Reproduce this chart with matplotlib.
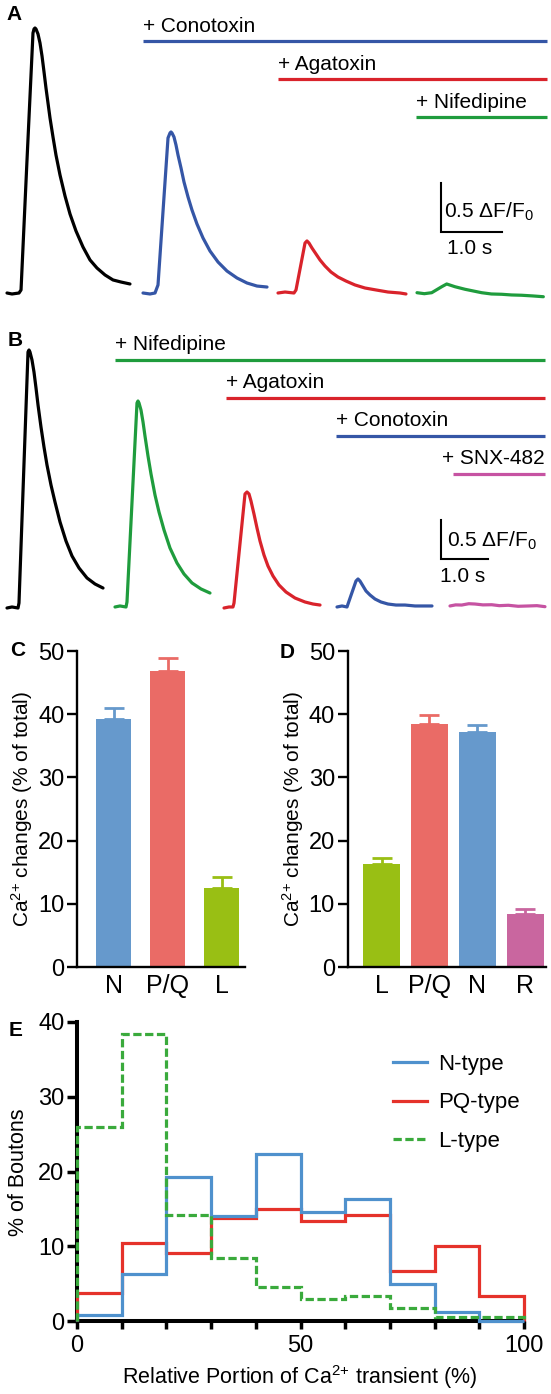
import matplotlib
matplotlib.use("Agg")
import matplotlib.pyplot as plt
from matplotlib.lines import Line2D
import numpy as np

plt.rcParams['font.family'] = ['Liberation Sans', 'DejaVu Sans']
plt.rcParams['mathtext.fontset'] = 'custom'
plt.rcParams['mathtext.rm'] = 'Liberation Sans'
plt.rcParams['mathtext.it'] = 'Liberation Sans:italic'
plt.rcParams['mathtext.bf'] = 'Liberation Sans:bold'

# ------------------------------------------------------------------ data
# Panel A: Ca2+ transients (time in s from trace start, dF/F0)
a_ctrl_t = [0, 0.082, 0.197, 0.23, 0.328, 0.426, 0.443, 0.459, 0.475, 0.508, 0.541, 0.574, 0.607, 0.639,
            0.672, 0.705, 0.754, 0.803, 0.869, 0.951, 1.033, 1.131, 1.246, 1.361, 1.475, 1.607, 1.738, 1.869, 2.016]
a_ctrl_v = [0, -0.01, 0, 0.031, 1.357, 2.653, 2.694, 2.704, 2.694, 2.643, 2.551, 2.418, 2.255, 2.092,
            1.939, 1.786, 1.592, 1.408, 1.204, 0.99, 0.806, 0.633, 0.469, 0.337, 0.255, 0.184, 0.133, 0.112, 0.092]
a_cono_t = [0, 0.115, 0.197, 0.246, 0.41, 0.443, 0.459, 0.475, 0.508, 0.541, 0.574, 0.623, 0.672, 0.738,
            0.803, 0.885, 0.984, 1.098, 1.23, 1.377, 1.541, 1.705, 1.869, 2.033]
a_cono_v = [0, -0.01, 0, 0.082, 1.582, 1.633, 1.643, 1.633, 1.592, 1.51, 1.408, 1.276, 1.133, 0.98,
            0.847, 0.704, 0.561, 0.429, 0.316, 0.224, 0.153, 0.102, 0.071, 0.061]
a_aga_t = [0, 0.115, 0.262, 0.295, 0.443, 0.475, 0.508, 0.557, 0.623, 0.689, 0.77, 0.869, 0.984, 1.115,
           1.262, 1.426, 1.607, 1.803, 2.0, 2.098]
a_aga_v = [0, 0.01, 0, 0.031, 0.51, 0.531, 0.51, 0.459, 0.398, 0.337, 0.276, 0.214, 0.163, 0.122,
           0.082, 0.051, 0.031, 0.01, 0, -0.01]
a_nif_t = [0.0, 0.12, 0.241, 0.405, 0.487, 0.623, 0.787, 1.06, 1.22, 1.388, 1.55, 1.716, 1.9, 2.071]
a_nif_v = [0.003, -0.007, 0.003, 0.064, 0.092, 0.064, 0.038, 0.003, -0.01, -0.013, -0.02, -0.023, -0.03, -0.038]

# Panel B
b_ctrl_t = [0, 0.106, 0.234, 0.255, 0.447, 0.468, 0.489, 0.532, 0.574, 0.617, 0.66, 0.723, 0.787, 0.851,
            0.936, 1.021, 1.128, 1.255, 1.383, 1.532, 1.702, 1.872, 2.043]
b_ctrl_v = [0, 0.013, 0, 0.064, 3.282, 3.308, 3.282, 3.179, 3.026, 2.821, 2.603, 2.321, 2.064, 1.833,
            1.577, 1.359, 1.103, 0.859, 0.667, 0.513, 0.385, 0.308, 0.256]
b_nif_t = [0, 0.106, 0.234, 0.255, 0.468, 0.489, 0.511, 0.553, 0.596, 0.638, 0.702, 0.766, 0.851, 0.936,
           1.043, 1.17, 1.319, 1.468, 1.638, 1.83, 2.021]
b_nif_v = [0.013, 0.026, 0.013, 0.077, 2.628, 2.654, 2.628, 2.538, 2.385, 2.205, 1.949, 1.718, 1.449, 1.231,
           1.0, 0.769, 0.577, 0.436, 0.321, 0.244, 0.192]
b_aga_t = [0, 0.106, 0.191, 0.213, 0.447, 0.489, 0.532, 0.574, 0.638, 0.702, 0.766, 0.851, 0.936, 1.043,
           1.17, 1.319, 1.511, 1.723, 1.894, 2.043]
b_aga_v = [0, 0.013, 0.013, 0.064, 1.462, 1.487, 1.462, 1.372, 1.205, 1.026, 0.859, 0.679, 0.538, 0.41,
           0.295, 0.205, 0.128, 0.077, 0.051, 0.038]
b_cono_t = [0, 0.106, 0.213, 0.234, 0.404, 0.447, 0.489, 0.553, 0.617, 0.702, 0.809, 0.936, 1.085, 1.255,
            1.447, 1.66, 1.851, 2.021]
b_cono_v = [0.013, 0.026, 0.013, 0.051, 0.346, 0.372, 0.346, 0.282, 0.218, 0.167, 0.115, 0.077, 0.051, 0.038,
            0.038, 0.026, 0.026, 0.026]
b_snx_t = [0.0, 0.12, 0.249, 0.4, 0.532, 0.7, 0.887, 1.05, 1.24, 1.45, 1.666, 1.85, 2.021]
b_snx_v = [0.026, 0.04, 0.038, 0.055, 0.051, 0.04, 0.042, 0.03, 0.035, 0.022, 0.026, 0.03, 0.017]

a_drugs = ["+ Conotoxin", "+ Agatoxin", "+ Nifedipine"]
b_drugs = ["+ Nifedipine", "+ Agatoxin", "+ Conotoxin", "+ SNX-482"]

# Panel C
c_labels = ["N", "P/Q", "L"]
c_means = [39.2, 46.8, 12.5]
c_errs = [1.8, 2.1, 1.7]
# Panel D
d_labels = ["L", "P/Q", "N", "R"]
d_means = [16.3, 38.4, 37.2, 8.4]
d_errs = [0.9, 1.4, 1.1, 0.7]

# Panel E: histograms (% of boutons), bins of 10 %
e_edges = [0, 10, 20, 30, 40, 50, 60, 70, 80, 90, 100]
e_n = [0.8, 6.25, 19.2, 14.1, 22.4, 14.55, 16.3, 4.95, 1.25, 0.0]
e_pq = [3.7, 10.5, 9.15, 13.75, 14.95, 13.4, 14.2, 6.75, 10.05, 3.35]
e_l = [25.9, 38.4, 14.2, 8.4, 4.6, 3.0, 3.4, 1.8, 0.6, 0.5]

# ------------------------------------------------------------------ style
BLK = "black"
T_BLUE = "#3556a6"
T_RED = "#d9232b"
T_GREEN = "#1f9c3d"
T_MAG = "#c653a2"
BAR_N = "#6699cc"
BAR_PQ = "#ea6b66"
BAR_L = "#99bf14"
BAR_R = "#c9669f"
E_BLUE = "#4f91cd"
E_RED = "#e5322a"
E_GREEN = "#3aaa3c"

W, H = 551, 1394
fig = plt.figure(figsize=(W / 100, H / 100), dpi=100)


def px_axes(x0, y0, x1, y1):
    return fig.add_axes([x0 / W, 1 - y1 / H, (x1 - x0) / W, (y1 - y0) / H])


def ftext(x, y, s, **kw):
    fig.text(x / W, 1 - y / H, s, **kw)


def trace_panel(ax, px_s, px_u, x0, base, top_px, bot_px, traces, offsets,
                drugs, drug_colors, drug_levels, drug_starts, drug_end,
                sbar, sb_txt_dx, sb_txt_dy, s_txt_dx, s_txt_dy, snx_right=False):
    ax.set_xlim(-x0 / px_s, (W - x0) / px_s)
    ax.set_ylim((base - bot_px) / px_u, (base - top_px) / px_u)
    ax.axis('off')
    for (t, v, c), off in zip(traces, offsets):
        ax.plot(np.asarray(t) + off, v, color=c, lw=2.3,
                solid_joinstyle='round', solid_capstyle='round')
    for i, (lab, c, lv, st) in enumerate(zip(drugs, drug_colors, drug_levels, drug_starts)):
        ax.plot([st, drug_end], [lv, lv], color=c, lw=2.3, solid_capstyle='butt')
        if snx_right and i == len(drugs) - 1:
            ax.annotate(lab, (drug_end, lv), xytext=(0, 15), textcoords='offset pixels',
                        ha='right', va='center', fontsize=15)
        else:
            ax.annotate(lab, (st, lv), xytext=(0, 15), textcoords='offset pixels',
                        ha='left', va='center', fontsize=15)
    sx, sy = sbar
    ax.plot([sx, sx, sx + 1.0], [sy + 0.5, sy, sy], color='black', lw=1.5,
            solid_joinstyle='miter')
    ax.annotate("0.5 \u0394F/F$_{\\mathregular{0}}$", (sx, sy + 0.25),
                xytext=(sb_txt_dx, sb_txt_dy), textcoords='offset pixels',
                ha='left', va='center', fontsize=15)
    ax.annotate("1.0 s", (sx, sy), xytext=(s_txt_dx, s_txt_dy),
                textcoords='offset pixels', ha='left', va='center', fontsize=15)


# ---- Panel A
axA = px_axes(0, 0, W, 305)
A_S, A_U = 61.0, 98.0
trace_panel(axA, A_S, A_U, 7, 293, 0, 305,
            [(a_ctrl_t, a_ctrl_v, BLK), (a_cono_t, a_cono_v, T_BLUE),
             (a_aga_t, a_aga_v, T_RED), (a_nif_t, a_nif_v, T_GREEN)],
            [0, 136 / A_S, 271 / A_S, 410 / A_S],
            a_drugs, [T_BLUE, T_RED, T_GREEN],
            [(293 - 41) / A_U, (293 - 79) / A_U, (293 - 117) / A_U],
            [136 / A_S, 271 / A_S, 409 / A_S], 540 / A_S,
            ((441 - 7) / A_S, (293 - 232) / A_U), 3, -4, 6, -17)

# ---- Panel B
axB = px_axes(0, 312, W, 615)
B_S, B_U = 47.0, 78.0
trace_panel(axB, B_S, B_U, 7, 608, 312, 615,
            [(b_ctrl_t, b_ctrl_v, BLK), (b_nif_t, b_nif_v, T_GREEN),
             (b_aga_t, b_aga_v, T_RED), (b_cono_t, b_cono_v, T_BLUE),
             (b_snx_t, b_snx_v, T_MAG)],
            [0, 108 / B_S, 217 / B_S, 330 / B_S, 443 / B_S],
            b_drugs, [T_GREEN, T_RED, T_BLUE, T_MAG],
            [(608 - 360) / B_U, (608 - 398) / B_U, (608 - 436) / B_U, (608 - 474) / B_U],
            [108 / B_S, 219 / B_S, 329 / B_S, 446 / B_S], 538 / B_S,
            ((441 - 7) / B_S, (608 - 559) / B_U), 6, -1, -1, -18, snx_right=True)


# ---- Panels C and D
def bar_panel(ax, labels, means, errs, colors, width, xl):
    x = np.arange(len(means))
    ax.bar(x, means, width=width, color=colors, zorder=2)
    for xi, m, e, c in zip(x, means, errs, colors):
        ax.errorbar(xi, m, yerr=[[0], [e]], fmt='none', ecolor=c, elinewidth=2.0,
                    capsize=7, capthick=2.0, zorder=2)
    ax.set_xlim(*xl)
    ax.set_ylim(0, 50)
    ax.set_yticks([0, 10, 20, 30, 40, 50])
    ax.set_xticks(x)
    ax.set_xticklabels(labels)
    for s in ['top', 'right']:
        ax.spines[s].set_visible(False)
    for s in ['left', 'bottom']:
        ax.spines[s].set_linewidth(1.7)
    ax.tick_params(axis='y', length=7, width=1.7, labelsize=17, pad=2)
    ax.tick_params(axis='x', length=0, labelsize=18, pad=5)


axC = px_axes(77, 651, 245, 967)
bar_panel(axC, c_labels, c_means, c_errs, [BAR_N, BAR_PQ, BAR_L], 0.65, (-0.676, 2.435))
axD = px_axes(347.5, 651, 546, 967)
bar_panel(axD, d_labels, d_means, d_errs, [BAR_L, BAR_PQ, BAR_N, BAR_R], 0.77, (-0.71, 3.43))

ylab = "Ca$^{\\mathregular{2{+}}}$ changes (% of total)"
ftext(22, 809, ylab, rotation=90, ha='center', va='center', fontsize=15)
ftext(293, 809, ylab, rotation=90, ha='center', va='center', fontsize=15)

# ---- Panel E
axE = px_axes(77, 1022, 524, 1321)
axE.stairs(e_pq, e_edges, baseline=0, color=E_RED, lw=2.3, clip_on=False, zorder=3)
axE.stairs(e_n, e_edges, baseline=0, color=E_BLUE, lw=2.3, clip_on=False, zorder=3.1)
axE.stairs(e_l, e_edges, baseline=0, color=E_GREEN, lw=2.3, clip_on=False, zorder=3.2,
           linestyle=(0, (2.6, 1.1)))
axE.set_xlim(0, 100)
axE.set_ylim(0, 40)
axE.set_xticks([0, 50, 100])
axE.set_xticks(e_edges, minor=True)
axE.set_yticks([0, 10, 20, 30, 40])
for s in ['top', 'right']:
    axE.spines[s].set_visible(False)
for s in ['left', 'bottom']:
    axE.spines[s].set_linewidth(2.9)
axE.tick_params(axis='x', which='both', length=6, width=2.5, labelsize=17, pad=4)
axE.tick_params(axis='y', length=7, width=2.5, labelsize=17, pad=2)
handles = [Line2D([], [], color=E_BLUE, lw=2.3),
           Line2D([], [], color=E_RED, lw=2.3),
           Line2D([], [], color=E_GREEN, lw=2.3, linestyle=(0, (2.6, 1.1)))]
axE.legend(handles, ["N-type", "PQ-type", "L-type"], loc='upper left',
           bbox_to_anchor=(393 / W, 1 - 1054 / H), bbox_transform=fig.transFigure,
           frameon=False, fontsize=16, handlelength=1.55, handletextpad=0.5,
           labelspacing=0.78, borderpad=0, borderaxespad=0)
ftext(19, 1172, "% of Boutons", rotation=90, ha='center', va='center', fontsize=15.5)
ftext(300, 1377, "Relative Portion of Ca$^{\\mathregular{2{+}}}$ transient (%)",
      ha='center', va='center', fontsize=15.5)

# ---- panel letters
for lab, x, y in [("A", 14, 14), ("B", 15, 340), ("C", 18, 650), ("D", 287, 652), ("E", 16, 1030)]:
    ftext(x, y, lab, ha='center', va='center', fontsize=15, fontweight='bold')

fig.savefig("out.png", dpi=100)
